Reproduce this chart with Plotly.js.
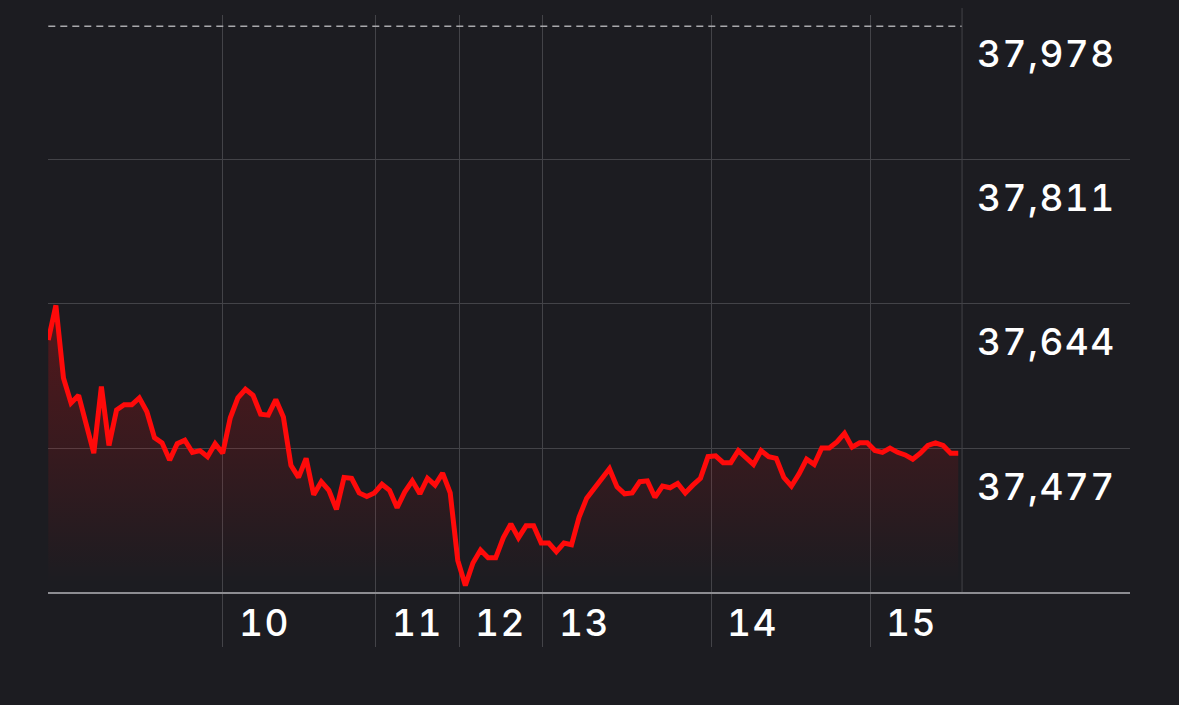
<!DOCTYPE html>
<html>
<head>
<meta charset="utf-8">
<script src="https://cdn.plot.ly/plotly-3.0.1.min.js"></script>
<style>
  html, body { margin: 0; padding: 0; background: #1c1c21; }
  #chart { width: 1179px; height: 705px; }
  .annotation-text { font-feature-settings: "tnum" 1; letter-spacing: 1.5px; }
</style>
</head>
<body>
<div id="chart"></div>
<script>
// ---- data ----
const prices = [
  37602, 37642, 37558, 37529, 37538, 37505, 37471, 37548, 37480, 37521,
  37527, 37527, 37535, 37519, 37489, 37483, 37463, 37482, 37486, 37472,
  37474, 37467, 37482, 37471, 37512, 37535, 37545, 37538, 37516, 37515,
  37533, 37513, 37457, 37443, 37465, 37423, 37438, 37428, 37406, 37443,
  37442, 37425, 37421, 37425, 37435, 37428, 37408, 37426, 37439, 37424,
  37442, 37434, 37448, 37425, 37347, 37318, 37344, 37359, 37350, 37350,
  37373, 37389, 37373, 37387, 37387, 37367, 37367, 37357, 37367, 37365,
  37397, 37419, 37431, 37441, 37453, 37432, 37424, 37425, 37438, 37439,
  37420, 37433, 37431, 37436, 37425, 37434, 37442, 37467, 37468, 37460,
  37460, 37474, 37465, 37458, 37474, 37467, 37465, 37443, 37433, 37447,
  37464, 37458, 37477, 37477, 37484, 37494, 37478, 37483, 37483, 37474,
  37472, 37477, 37472, 37469, 37464, 37471, 37480, 37483, 37480, 37471,
  37471
];
const sampleIdx = prices.map((_, i) => i);
const dayTickIdx = [23.0, 43.2, 54.2, 65.2, 87.4, 108.4];
const dayLabels = ['10', '11', '12', '13', '14', '15'];
const priceTicks = [37477, 37644, 37811, 37978];
const prevClose = 37965;

// ---- styles ----
const BG = '#1c1c21';
const GRID = '#434348';
const AXIS = '#8d8d92';
const RED = '#ff0a0a';
const FONT = 'Inter, "Open Sans", sans-serif';
const endIdx = prices.length - 0.5;

const trace = {
  x: sampleIdx,
  y: prices,
  type: 'scatter',
  mode: 'lines',
  line: { color: RED, width: 5, shape: 'linear' },
  fill: 'tozeroy',
  fillgradient: {
    type: 'vertical',
    start: 37320,
    stop: 37640,
    colorscale: [[0, 'rgba(255,10,10,0)'], [1, 'rgba(255,10,10,0.25)']]
  },
  hoverinfo: 'skip'
};

const fmt = v => v.toLocaleString('en-US');

const annotations = [];
priceTicks.forEach(v => annotations.push({
  x: 1, xref: 'paper', xanchor: 'right', xshift: -12,
  y: v, yref: 'y', yanchor: 'middle', yshift: -38,
  text: fmt(v), showarrow: false,
  font: { family: FONT, size: 37, color: '#ffffff', weight: 500 }
}));
dayTickIdx.forEach((t, k) => annotations.push({
  x: t, xref: 'x', xanchor: 'left', xshift: 14,
  y: 0, yref: 'paper', yanchor: 'middle', yshift: -30,
  text: dayLabels[k], showarrow: false,
  font: { family: FONT, size: 37, color: '#ffffff', weight: 500 }
}));

const layout = {
  width: 1179, height: 705,
  paper_bgcolor: BG, plot_bgcolor: BG,
  margin: { l: 48, r: 49, t: 15, b: 113 },
  showlegend: false,
  xaxis: {
    range: [-0.04, 142.65],
    tickmode: 'array', tickvals: dayTickIdx, ticktext: dayLabels,
    showticklabels: false,
    ticks: 'outside', ticklen: 53, tickwidth: 1, tickcolor: GRID,
    showgrid: true, gridcolor: GRID, gridwidth: 1,
    zeroline: false,
    showline: true, linecolor: AXIS, linewidth: 1.6
  },
  yaxis: {
    range: [37310.4, 37978],
    tickmode: 'array', tickvals: priceTicks,
    showticklabels: false, ticks: '',
    showgrid: true, gridcolor: GRID, gridwidth: 1,
    zeroline: false, showline: false
  },
  shapes: [
    { type: 'line', xref: 'x', yref: 'y', x0: 0, x1: endIdx, y0: prevClose, y1: prevClose,
      line: { color: '#a9a9ad', width: 1.5, dash: '7px,5px' } },
    { type: 'line', xref: 'x', yref: 'paper', x0: endIdx, x1: endIdx, y0: 0, y1: 1.012,
      line: { color: GRID, width: 1 } }
  ],
  annotations: annotations
};

Plotly.newPlot('chart', [trace], layout, { staticPlot: true, displayModeBar: false });
</script>
</body>
</html>
